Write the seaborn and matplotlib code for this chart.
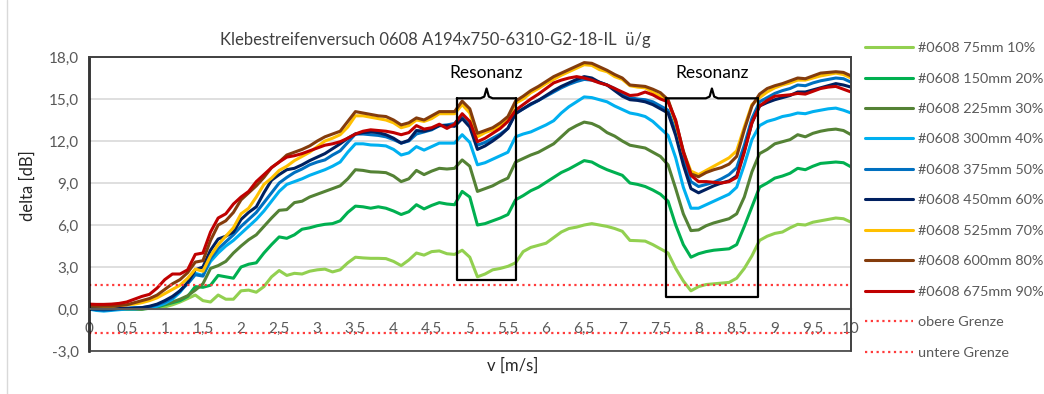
import numpy as np
import seaborn as sns
import matplotlib.pyplot as plt
from matplotlib.lines import Line2D
from matplotlib.patches import Rectangle

# speed axis, 0.1 m/s steps
v = np.round(np.arange(0, 10.01, 0.1), 1)

d_075 = [0.0, 0.0, 0.0, 0.0, 0.0, 0.0, 0.0, 0.0, 0.05, 0.1,
         0.15, 0.3, 0.5, 0.75, 1.0, 0.6, 0.5, 1.0, 0.7, 0.7,
         1.3, 1.35, 1.2, 1.6, 2.3, 2.75, 2.4, 2.55, 2.5, 2.7,
         2.8, 2.85, 2.65, 2.8, 3.3, 3.7, 3.65, 3.62, 3.62, 3.6,
         3.4, 3.1, 3.5, 4.0, 3.85, 4.1, 4.15, 3.95, 3.9, 4.2,
         3.7, 2.3, 2.5, 2.8, 2.9, 3.05, 3.3, 4.1, 4.4, 4.55,
         4.7, 5.1, 5.5, 5.75, 5.85, 6.0, 6.1, 6.0, 5.9, 5.75,
         5.55, 4.9, 4.88, 4.85, 4.6, 4.3, 4.0, 2.9, 2.0, 1.3,
         1.6, 1.75, 1.8, 1.85, 1.9, 2.2, 2.9, 3.8, 4.9, 5.2,
         5.4, 5.5, 5.8, 6.05, 6.0, 6.2, 6.3, 6.4, 6.5, 6.45, 6.2]
d_150 = [0.0, 0.0, 0.0, 0.0, 0.0, 0.0, 0.0, 0.0, 0.05, 0.15,
         0.3, 0.45, 0.6, 0.9, 1.6, 1.55, 1.7, 2.4, 2.3, 2.2,
         3.0, 3.2, 3.3, 4.0, 4.6, 5.15, 5.05, 5.3, 5.7, 5.8,
         5.95, 6.05, 6.1, 6.3, 6.9, 7.35, 7.3, 7.2, 7.3, 7.2,
         7.0, 6.75, 6.95, 7.45, 7.15, 7.4, 7.6, 7.5, 7.45, 8.4,
         8.0, 6.0, 6.1, 6.3, 6.5, 6.75, 7.8, 8.1, 8.45, 8.7,
         9.05, 9.4, 9.75, 10.0, 10.3, 10.6, 10.5, 10.2, 9.95, 9.75,
         9.55, 9.0, 8.9, 8.75, 8.5, 8.2, 7.7, 6.0, 4.6, 3.7,
         3.95, 4.1, 4.2, 4.25, 4.3, 4.6, 5.9, 7.3, 8.7, 9.0,
         9.35, 9.5, 9.7, 10.05, 9.95, 10.2, 10.4, 10.45, 10.5, 10.45, 10.15]
d_225 = [0.0, 0.0, 0.0, 0.0, 0.0, 0.0, 0.0, 0.0, 0.1, 0.2,
         0.35, 0.5, 0.7, 0.95, 1.35, 1.8, 2.9, 3.1, 3.4, 4.0,
         4.5, 4.95, 5.3, 5.9, 6.5, 7.05, 7.1, 7.6, 7.7, 8.0,
         8.2, 8.4, 8.6, 8.8, 9.3, 9.95, 9.9, 9.8, 9.78, 9.74,
         9.5, 9.1, 9.3, 9.9, 9.6, 9.85, 10.05, 10.0, 10.05, 10.65,
         10.2, 8.4, 8.6, 8.8, 9.1, 9.35, 10.5, 10.75, 11.0, 11.2,
         11.5, 11.8, 12.3, 12.8, 13.1, 13.35, 13.25, 13.0, 12.6, 12.35,
         12.0, 11.7, 11.6, 11.5, 11.2, 10.9, 10.3, 8.6, 6.8, 5.6,
         5.65, 5.95, 6.15, 6.3, 6.45, 6.8, 8.0, 9.8, 11.1, 11.4,
         11.8, 11.95, 12.1, 12.45, 12.3, 12.55, 12.7, 12.8, 12.85, 12.75, 12.45]
d_300 = [0.0, -0.1, -0.15, -0.1, -0.05, 0.0, 0.0, 0.05, 0.1, 0.2,
         0.4, 0.7, 1.2, 1.9, 2.55, 2.4, 3.4, 4.0, 4.5, 4.9,
         5.4, 5.9, 6.4, 7.0, 7.7, 8.4, 8.9, 9.1, 9.3, 9.55,
         9.75, 9.95, 10.2, 10.5, 11.2, 11.8, 11.8, 11.72, 11.7, 11.65,
         11.4, 11.0, 11.15, 11.6, 11.35, 11.6, 11.85, 11.85, 11.85, 12.45,
         11.9, 10.3, 10.45, 10.7, 10.95, 11.2, 12.3, 12.5, 12.65, 12.9,
         13.15, 13.45, 14.0, 14.45, 14.8, 15.15, 15.1, 14.95, 14.8, 14.5,
         14.25, 14.0, 13.9, 13.75, 13.4, 12.9, 12.4, 10.8, 8.7, 7.2,
         7.2, 7.45, 7.7, 7.95, 8.2, 8.7, 10.3, 12.1, 13.1, 13.4,
         13.55, 13.75, 13.85, 14.0, 13.95, 14.1, 14.2, 14.3, 14.35, 14.2, 14.0]
d_375 = [0.05, -0.05, -0.1, -0.05, 0.0, 0.05, 0.1, 0.1, 0.15, 0.3,
         0.5, 0.8, 1.3, 1.8, 2.45, 2.35, 3.6, 4.3, 4.8, 5.3,
         5.9, 6.4, 6.9, 7.6, 8.3, 9.0, 9.4, 9.75, 10.0, 10.3,
         10.5, 10.65, 11.0, 11.3, 11.9, 12.5, 12.5, 12.45, 12.4, 12.3,
         12.1, 11.85, 12.0, 12.5, 12.65, 12.8, 13.1, 13.15, 13.25, 13.85,
         13.3, 11.7, 11.9, 12.2, 12.5, 12.9, 14.0, 14.3, 14.6, 14.9,
         15.2, 15.5, 15.8, 16.05, 16.25, 16.4, 16.35, 16.2, 16.0, 15.75,
         15.4, 15.1, 15.0, 14.95, 14.8, 14.5, 14.2, 12.7, 10.6, 9.1,
         8.75, 8.9, 9.05, 9.3, 9.6, 10.1, 11.7, 13.6, 14.8, 15.1,
         15.4, 15.6, 15.75, 16.0, 15.95, 16.15, 16.3, 16.4, 16.5, 16.45, 16.2]
d_450 = [0.0, 0.0, 0.0, 0.0, 0.05, 0.05, 0.05, 0.1, 0.2, 0.35,
         0.6, 0.9, 1.3, 1.9, 2.8, 3.0, 4.2, 5.0, 5.2, 5.5,
         6.4, 6.9, 7.3, 8.3, 9.2, 9.6, 9.95, 10.05, 10.3, 10.6,
         10.85, 11.1, 11.45, 11.8, 12.2, 12.5, 12.6, 12.65, 12.6, 12.45,
         12.2, 11.85, 12.05, 12.75, 12.7, 12.85, 13.1, 13.1, 13.05, 13.6,
         13.0, 11.4, 11.65, 12.0, 12.4, 12.9, 13.95, 14.3, 14.65, 14.9,
         15.25, 15.6, 15.9, 16.15, 16.4, 16.6, 16.5, 16.2, 16.0, 15.6,
         15.2, 14.95, 14.9, 14.8, 14.6, 14.3, 14.0, 12.4, 10.3, 8.6,
         8.3, 8.55, 8.8, 9.0, 9.15, 9.5, 11.3, 13.3, 14.5, 14.75,
         14.95, 15.1, 15.25, 15.5, 15.5, 15.65, 15.8, 15.95, 16.1, 16.0, 15.85]
d_525 = [0.3, 0.25, 0.2, 0.2, 0.25, 0.3, 0.35, 0.45, 0.6, 0.8,
         1.1, 1.4, 1.7, 2.2, 2.85, 2.7, 3.8, 4.6, 5.2, 5.8,
         6.8, 7.2, 8.0, 8.9, 9.35, 9.9, 10.2, 10.6, 10.9, 11.2,
         11.6, 12.0, 12.2, 12.45, 13.0, 13.8, 13.8, 13.7, 13.6, 13.5,
         13.3, 12.95, 13.1, 13.5, 13.4, 13.6, 13.95, 13.95, 13.95, 14.6,
         14.0, 12.3, 12.6, 12.8, 13.1, 13.6, 14.7, 15.0, 15.45, 15.75,
         16.1, 16.4, 16.7, 16.95, 17.2, 17.45, 17.4, 17.1, 16.95, 16.6,
         16.4, 15.95, 15.85, 15.8, 15.5, 15.2, 14.9, 13.3, 11.2, 9.85,
         9.6, 9.9, 10.2, 10.5, 10.8, 11.3, 13.0, 14.6, 15.1, 15.5,
         15.8, 16.0, 16.15, 16.35, 16.35, 16.5, 16.65, 16.75, 16.85, 16.75, 16.5]
d_600 = [0.2, 0.2, 0.2, 0.2, 0.25, 0.3, 0.45, 0.6, 0.75, 1.0,
         1.4, 1.8, 2.1, 2.6, 3.35, 3.45, 4.9, 6.0, 6.3, 6.9,
         7.8, 8.3, 8.8, 9.4, 10.1, 10.5, 11.0, 11.2, 11.4, 11.65,
         12.0, 12.3, 12.5, 12.7, 13.4, 14.1, 14.0, 13.9, 13.8, 13.75,
         13.5, 13.15, 13.3, 13.65, 13.5, 13.8, 14.1, 14.1, 14.1, 14.85,
         14.3, 12.55, 12.75, 12.95, 13.3, 13.75, 14.85, 15.2, 15.6, 15.9,
         16.25, 16.6, 16.85, 17.1, 17.35, 17.6, 17.55, 17.3, 17.05, 16.75,
         16.5, 16.0, 15.95, 15.9, 15.7, 15.45, 14.95, 13.4, 11.3, 9.65,
         9.45, 9.75, 9.95, 10.1, 10.35, 10.9, 12.8, 14.5, 15.35, 15.75,
         15.95, 16.1, 16.3, 16.5, 16.45, 16.65, 16.85, 16.9, 16.95, 16.9, 16.65]
d_675 = [0.35, 0.33, 0.33, 0.35, 0.4, 0.5, 0.7, 0.9, 1.05, 1.5,
         2.1, 2.5, 2.5, 2.8, 3.9, 4.0, 5.5, 6.5, 6.8, 7.5,
         8.0, 8.4, 9.1, 9.6, 10.1, 10.5, 10.85, 10.95, 11.1, 11.3,
         11.5, 11.7, 11.8, 11.95, 12.2, 12.5, 12.7, 12.8, 12.75, 12.7,
         12.6, 12.45, 12.6, 13.1, 12.85, 12.95, 13.2, 12.9, 13.2, 13.95,
         13.4, 11.95, 12.2, 12.55, 12.9, 13.4, 14.2, 14.6, 15.0, 15.35,
         15.75, 16.15, 16.35, 16.5, 16.6, 16.5, 16.35, 16.15, 16.0, 15.75,
         15.5, 15.25, 15.3, 15.5, 15.3, 15.0, 14.8, 13.5, 11.2, 9.55,
         9.1, 9.1, 9.05, 9.0, 9.1, 9.4, 11.2, 13.3, 14.5, 14.9,
         15.2, 15.25, 15.3, 15.4, 15.35, 15.55, 15.75, 15.85, 15.9, 15.7, 15.5]

series = [d_075, d_150, d_225, d_300, d_375, d_450, d_525, d_600, d_675]
labels = ["#0608 75mm 10%", "#0608 150mm 20%", "#0608 225mm 30%",
          "#0608 300mm 40%", "#0608 375mm 50%", "#0608 450mm 60%",
          "#0608 525mm 70%", "#0608 600mm 80%", "#0608 675mm 90%"]
colors = ["#92D050", "#00B050", "#548235", "#00B0F0", "#0070C0",
          "#002060", "#FFC000", "#843C0C", "#C00000"]

grenze_x = [0, 10]
obere = [1.7, 1.7]
untere = [-1.7, -1.7]

# resonance boxes: (x0, x1, y_bottom, y_top)
resonanz = [(4.83, 5.61, 2.07, 15.05), (7.57, 8.78, 0.84, 15.05)]

sns.set_theme(style="white")
plt.rcParams['font.family'] = ['Lato', 'DejaVu Sans']

fig = plt.figure(figsize=(10.44, 3.94), dpi=100)
ax = fig.add_axes([0.0848, 0.1091, 0.7304, 0.7462])

for vals, lab, col in zip(series, labels, colors):
    sns.lineplot(x=v, y=vals, color=col, lw=2.2, label=lab, ax=ax)
sns.lineplot(x=grenze_x, y=obere, color="#FF3B3B", lw=1.6, ls=(0, (1, 1.6)),
             label="obere Grenze", ax=ax)
sns.lineplot(x=grenze_x, y=untere, color="#FF3B3B", lw=1.6, ls=(0, (1, 1.6)),
             label="untere Grenze", ax=ax)

# resonance boxes with brace on top
for x0, x1, yb, yt in resonanz:
    xc = (x0 + x1) / 2
    ax.plot([x0, x0, x1, x1], [yt, yb, yb, yt], color="black", lw=1.6)
    ax.plot([x0, xc - 0.08, xc - 0.03, xc, xc + 0.03, xc + 0.08, x1],
            [yt, yt, yt + 0.12, yt + 0.7, yt + 0.12, yt, yt], color="black", lw=1.6)
    ax.text(xc, 16.85, "Resonanz", ha="center", va="center", fontsize=12.5, color="black")

ax.set_xlim(0, 10)
ax.set_ylim(-3, 18)
yt_vals = [-3, 0, 3, 6, 9, 12, 15, 18]
ax.set_yticks(yt_vals)
ax.set_yticklabels([f"{t:.1f}".replace(".", ",") for t in yt_vals])
xt_vals = [i * 0.5 for i in range(21)]
ax.set_xticks(xt_vals)
ax.set_xticklabels([(f"{t:g}").replace(".", ",") for t in xt_vals])

ax.yaxis.grid(True, color="#D9D9D9", lw=1.2)
ax.set_axisbelow(True)
ax.tick_params(axis="y", length=0, pad=7, labelsize=11, labelcolor="#595959")
ax.tick_params(axis="x", direction="out", length=5, width=1.2, color="#595959",
               pad=4, labelsize=11, labelcolor="#595959")

ax.spines["bottom"].set_position(("data", 0))
ax.spines["bottom"].set_color("#595959")
ax.spines["bottom"].set_linewidth(1.5)
ax.spines["left"].set_color("black")
ax.spines["left"].set_linewidth(1.8)
for s in ["top", "right"]:
    ax.spines[s].set_color("#404040")
    ax.spines[s].set_linewidth(1.2)
ax.add_patch(Rectangle((0, 0), 1, 1, transform=ax.transAxes, fill=False,
                       edgecolor="#404040", lw=1.2, clip_on=False, zorder=5))
ax.set_xlabel("")
ax.set_ylabel("")

handles, labs = ax.get_legend_handles_labels()
ax.legend(handles, labs, loc="upper left", bbox_to_anchor=(865 / 1044, 1 - 42 / 394),
          bbox_transform=fig.transFigure, frameon=False, fontsize=10.4,
          handlelength=3.3, handletextpad=0.35, labelspacing=1.27,
          borderpad=0, borderaxespad=0, labelcolor="#595959")

fig.text(435 / 1044, 1 - 40 / 394, "Klebestreifenversuch 0608 A194x750-6310-G2-18-IL  ü/g",
         ha="center", va="center", fontsize=12, color="#404040")
fig.text(513 / 1044, 1 - 366 / 394, "v [m/s]", ha="center", va="center",
         fontsize=12, color="#262626")
fig.text(28 / 1044, 1 - 186 / 394, "delta [dB]", ha="center", va="center",
         rotation=90, fontsize=12, color="#262626")
fig.add_artist(Line2D([7 / 1044, 7 / 1044], [0, 1], transform=fig.transFigure,
                      color="#D9D9D9", lw=1))

fig.savefig("out.png", dpi=100)
